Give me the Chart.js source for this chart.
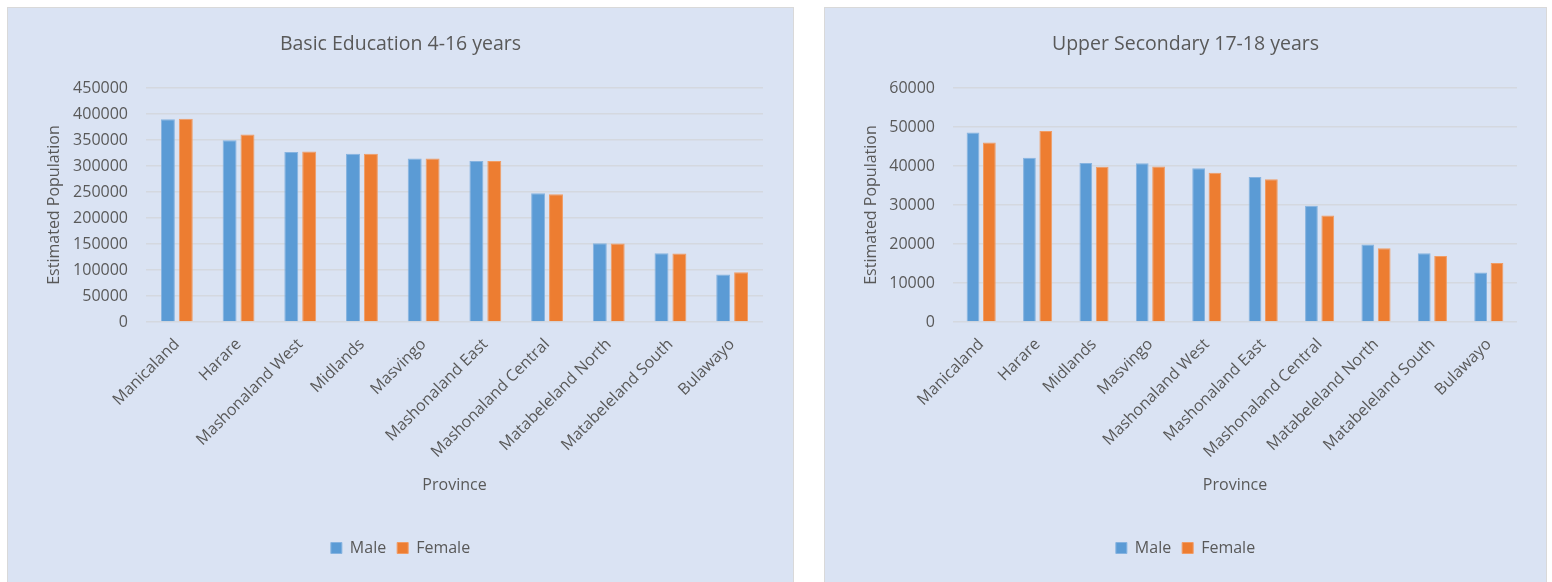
<!DOCTYPE html>
<html>
<head>
<meta charset="utf-8">
<script src="https://cdn.jsdelivr.net/npm/chart.js@4.4.1/dist/chart.umd.min.js"></script>
<style>
  html, body { margin: 0; padding: 0; background: #ffffff; width: 1552px; height: 582px; overflow: hidden; }
  .panel { position: absolute; top: 7px; background: #DAE3F3; border: 1px solid #D9D9D9; }
  #p1 { left: 7px; width: 785px; height: 580px; }
  #p2 { left: 824px; width: 721px; height: 580px; }
  canvas { display: block; }
</style>
</head>
<body>
<div class="panel" id="p1"><canvas id="c1" width="785" height="574"></canvas></div>
<div class="panel" id="p2"><canvas id="c2" width="721" height="574"></canvas></div>
<script>
// Basic Education 4-16 years, estimated population by province
const basicProvinces = ['Manicaland', 'Harare', 'Mashonaland West', 'Midlands', 'Masvingo',
  'Mashonaland East', 'Mashonaland Central', 'Matabeleland North', 'Matabeleland South', 'Bulawayo'];
const basicMale   = [389700, 349300, 326800, 323500, 314600, 309400, 247800, 151500, 132300, 91300];
const basicFemale = [390900, 360800, 328100, 323500, 314600, 309400, 245900, 150900, 131700, 95700];

// Upper Secondary 17-18 years, estimated population by province
const upperProvinces = ['Manicaland', 'Harare', 'Midlands', 'Masvingo', 'Mashonaland West',
  'Mashonaland East', 'Mashonaland Central', 'Matabeleland North', 'Matabeleland South', 'Bulawayo'];
const upperMale   = [48600, 42100, 40800, 40700, 39400, 37200, 29800, 19900, 17600, 12700];
const upperFemale = [46000, 49000, 39800, 39900, 38300, 36600, 27300, 18900, 16900, 15100];

const seriesNames = ['Male', 'Female'];

const FONT = "'Open Sans', 'Noto Sans', sans-serif";
const TEXT = '#595959';
const GRID = '#D4D8DF';

function makeChart(id, title, labels, male, female, yMax, yStep, yAxisWidth, rightGap) {
  return new Chart(document.getElementById(id), {
    type: 'bar',
    data: {
      labels: labels,
      datasets: [
        { label: seriesNames[0], data: male, backgroundColor: '#5B9BD5', borderColor: '#86B3E0',
          borderWidth: 1, borderSkipped: 'start' },
        { label: seriesNames[1], data: female, backgroundColor: '#ED7D31', borderColor: '#F19C64',
          borderWidth: 1, borderSkipped: 'start' }
      ]
    },
    options: {
      responsive: false,
      animation: false,
      layout: { padding: { left: 0, right: 0, top: 0, bottom: 16 } },
      datasets: { bar: { categoryPercentage: 0.58, barPercentage: 0.78 } },
      plugins: {
        tooltip: { enabled: false },
        title: {
          display: true, text: title, color: TEXT,
          font: { family: FONT, size: 19.5, weight: 'normal' },
          padding: { top: 25, bottom: 31.6 }
        },
        legend: {
          position: 'bottom',
          labels: {
            color: TEXT, boxWidth: 11, boxHeight: 11, padding: 11,
            font: { family: FONT, size: 16 }
          }
        }
      },
      scales: {
        x: {
          grid: { display: false },
          border: { display: false },
          ticks: {
            color: TEXT, font: { family: FONT, size: 16 },
            autoSkip: false, minRotation: 45, maxRotation: 45, padding: 5
          },
          title: {
            display: true, text: 'Province', color: TEXT,
            font: { family: FONT, size: 16 }, padding: { top: 0, bottom: 34.4 }
          },
          afterFit: (s) => { s.height = 207; }
        },
        y: {
          min: 0, max: yMax,
          grid: { color: GRID, lineWidth: 1.5, drawTicks: false },
          border: { display: false },
          ticks: {
            stepSize: yStep, color: TEXT, padding: 18,
            font: { family: FONT, size: 16 },
            callback: (v) => String(v)
          },
          title: {
            display: true, text: 'Estimated Population', color: TEXT,
            font: { family: FONT, size: 16 }, padding: { top: 37, bottom: 0 }
          },
          afterFit: (s) => { s.width = yAxisWidth; }
        },
        // empty margin on the right of the plot so the title and legend stay centred on the panel
        gap: {
          position: 'right', type: 'linear',
          grid: { display: false }, border: { display: false },
          ticks: { display: false },
          afterFit: (s) => { s.width = rightGap; }
        }
      }
    }
  });
}

makeChart('c1', 'Basic Education 4-16 years', basicProvinces, basicMale, basicFemale, 450000, 50000, 138, 30);
makeChart('c2', 'Upper Secondary 17-18 years', upperProvinces, upperMale, upperFemale, 60000, 10000, 128, 29);
</script>
</body>
</html>
